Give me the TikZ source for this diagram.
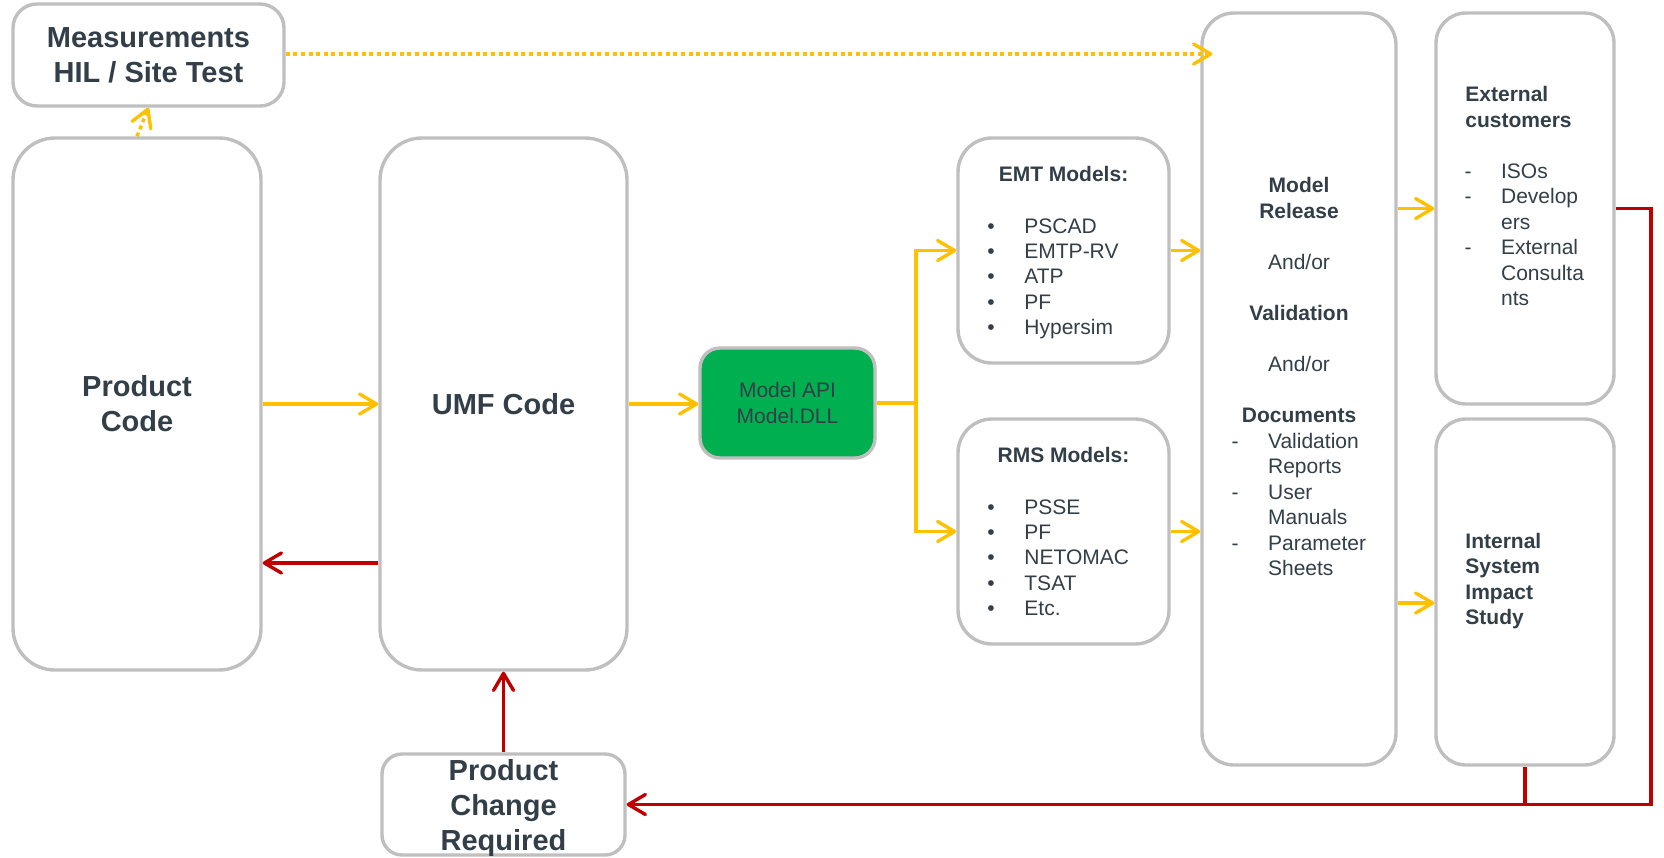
\documentclass[tikz,border=0pt]{standalone}
\usepackage{fontspec}
\setmainfont{Liberation Sans}
\usetikzlibrary{arrows.meta,calc}
\definecolor{gr}{HTML}{BFBFBF}
\definecolor{yl}{HTML}{FFC000}
\definecolor{rd}{HTML}{C00000}
\definecolor{gn}{HTML}{00B050}
\definecolor{tc}{HTML}{333F48}
\tikzset{
 box/.style={draw=gr, line width=1.7pt, fill=white, inner sep=0pt, text=tc},
 big/.style={font=\fontsize{14.5}{17.5}\selectfont\bfseries, align=center},
 sm/.style={font=\fontsize{10.5}{12.75}\selectfont},
 bf/.style={font=\fontsize{10.5}{12.75}\selectfont\bfseries},
 txt/.style={text=tc, inner sep=0pt},
 tipend/.style={-{Straight Barb[length=8.5pt,width=10pt,round]}},
 yline/.style={draw=yl, line width=1.7pt},
 rline/.style={draw=rd, line width=1.7pt},
 yarr/.style={yline, tipend},
 rarr/.style={rline, tipend},
 dotarr/.style={yarr, dash pattern=on 2pt off 1.8pt},
}
\begin{document}
\begin{tikzpicture}[x=0.5pt,y=-0.5pt]
\useasboundingbox (0,0) rectangle (1664,857);

% boxes
\node[box, big, minimum width=135.5pt, minimum height=51pt, rounded corners=12pt] (meas) at (148.5,55) {Measurements\\HIL / Site Test};
\node[box, big, minimum width=124pt, minimum height=266pt, rounded corners=21pt] (prod) at (137,404) {Product\\Code};
\node[box, big, minimum width=123.5pt, minimum height=266pt, rounded corners=21pt] (umf) at (503.5,404) {UMF Code};
\node[box, sm, align=center, fill=gn, minimum width=87.5pt, minimum height=55pt, rounded corners=10pt] (api) at (787.5,403) {Model API\\Model.DLL};
\node[box, minimum width=105.5pt, minimum height=112.5pt, rounded corners=17pt] (emt) at (1063.5,250.5) {};
\node[box, minimum width=105.5pt, minimum height=112.5pt, rounded corners=17pt] (rms) at (1063.5,531.5) {};
\node[box, minimum width=97pt, minimum height=376pt, rounded corners=16pt] (rel) at (1299,389) {};
\node[box, minimum width=89pt, minimum height=195.5pt, rounded corners=15pt] (ext) at (1525,208.5) {};
\node[box, minimum width=89pt, minimum height=173pt, rounded corners=15pt] (int) at (1525,592) {};
\node[box, big, text depth=0pt, minimum width=121.5pt, minimum height=50.5pt, rounded corners=10pt] (pcr) at (503.5,804.5) {Product\\Change\\Required};

% EMT text
\node[txt,bf,anchor=base] (emtT) at (1063.5,181.7) {EMT Models:};
\foreach \t [count=\i from 0] in {PSCAD,EMTP-RV,ATP,PF,Hypersim} {
  \node[txt,sm,anchor=base] (emtB\i) at (991,233.3+25.3*\i) {•};
  \node[txt,sm,anchor=base west] (emtI\i) at (1024,233.3+25.3*\i) {\t};
}
% RMS text
\node[txt,bf,anchor=base] (rmsT) at (1063.5,462.7) {RMS Models:};
\foreach \t [count=\i from 0] in {PSSE,PF,NETOMAC,TSAT,Etc.} {
  \node[txt,sm,anchor=base] (rmsB\i) at (991,514.3+25.3*\i) {•};
  \node[txt,sm,anchor=base west] (rmsI\i) at (1024,514.3+25.3*\i) {\t};
}
% Release text
\node[txt,bf,anchor=base] (rl1) at (1299,192.7) {Model};
\node[txt,bf,anchor=base] (rl2) at (1299,218.2) {Release};
\node[txt,sm,anchor=base] (rl3) at (1299,269.2) {And/or};
\node[txt,bf,anchor=base] (rl4) at (1299,320.2) {Validation};
\node[txt,sm,anchor=base] (rl5) at (1299,371.2) {And/or};
\node[txt,bf,anchor=base] (rl6) at (1299,422.3) {Documents};
\foreach \t [count=\i from 0] in {Validation,Reports,User,Manuals,Parameter,Sheets} {
  \node[txt,sm,anchor=base west] (doc\i) at (1267.7,448+25.5*\i) {\t};
}
\foreach \i in {0,2,4} {
  \node[txt,sm,anchor=base] (docD\i) at (1235,448+25.5*\i) {-};
}
% External text
\node[txt,bf,anchor=base west] (ex1) at (1465,101.7) {External};
\node[txt,bf,anchor=base west] (ex2) at (1465,127.2) {customers};
\foreach \t [count=\i from 0] in {ISOs,Develop,ers,External,Consulta,nts} {
  \node[txt,sm,anchor=base west] (exI\i) at (1500.7,178+25.5*\i) {\t};
}
\foreach \i in {0,1,3} {
  \node[txt,sm,anchor=base] (exD\i) at (1468,178+25.5*\i) {-};
}
% Internal text
\foreach \t [count=\i from 0] in {Internal,System,Impact,Study} {
  \node[txt,bf,anchor=base west] (in\i) at (1465,548.3+25.5*\i) {\t};
}

% connectors
\coordinate (yb) at (0,563);
\coordinate (br) at (916,403);
\coordinate (yi) at (0,603);
\coordinate (yd) at (0,54);
\coordinate (rc) at (1651,804.5);

\draw[yarr] (prod.east) -- (umf.west);
\draw[rarr] (umf.west |- yb) -- (prod.east |- yb);
\draw[yarr] (umf.east) -- (umf.east -| api.west);
\draw[yline] (api.east) -- (br);
\draw[yarr] (br) |- (emt.west);
\draw[yarr] (br) |- (rms.west);
\draw[yarr] (emt.east) -- (emt.east -| rel.west);
\draw[yarr] (rms.east) -- (rms.east -| rel.west);
\draw[yarr] (rel.east |- ext.west) -- (ext.west);
\draw[yarr] (rel.east |- yi) -- (int.west |- yi);
\draw[dotarr] (meas.east |- yd) -- ([xshift=6pt]rel.west |- yd);
\draw[dotarr] (prod.north) -- (meas.south);
\draw[rarr] (ext.east) -| (rc) -- (pcr.east);
\draw[rline] (int.south) -- (int.south |- rc);
\draw[rarr] (pcr.north) -- (umf.south);
\end{tikzpicture}
\end{document}
